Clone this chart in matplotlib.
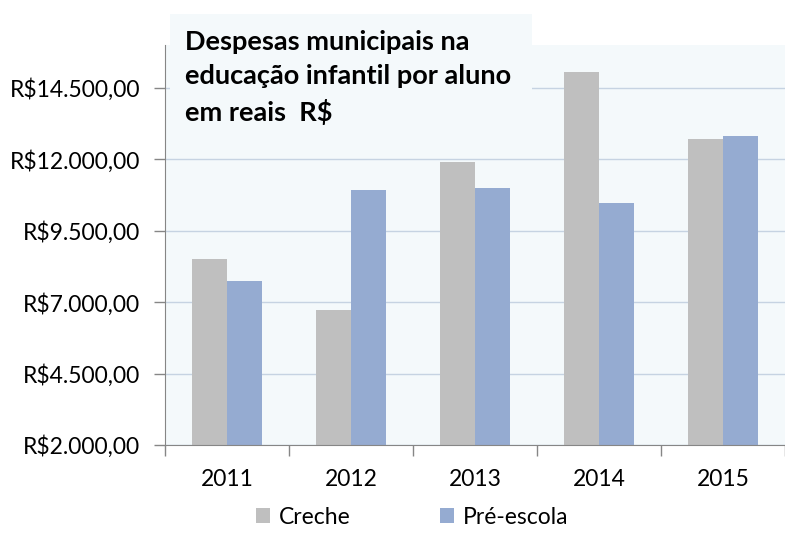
import matplotlib
matplotlib.use("Agg")
import matplotlib.pyplot as plt
from matplotlib.patches import Rectangle
import numpy as np

years = ["2011", "2012", "2013", "2014", "2015"]
creche = [8500, 6720, 11900, 15060, 12710]
pre_escola = [7730, 10920, 10990, 10470, 12810]
yticks = [2000, 4500, 7000, 9500, 12000, 14500]
ytick_labels = ["R$2.000,00", "R$4.500,00", "R$7.000,00", "R$9.500,00", "R$12.000,00", "R$14.500,00"]
title = "Despesas municipais na\neducação infantil por aluno\nem reais  R$"

plt.rcParams['font.family'] = ['Lato', 'DejaVu Sans']

W, H = 785, 547
fig = plt.figure(figsize=(W/100, H/100), dpi=100)
fig.patch.set_facecolor("white")
bg = "#f4f9fb"
ax = fig.add_axes([165/W, (H-445)/H, (W-165)/W, 400/H])
ax.set_facecolor(bg)

x = np.arange(len(years))
bw = 0.282
ax.bar(x - bw/2, creche, width=bw, color="#bfbfbf", label="Creche", zorder=3)
ax.bar(x + bw/2, pre_escola, width=bw, color="#95abd1", label="Pré-escola", zorder=3)

ax.set_ylim(2000, 16000)
ax.set_xlim(-0.5, len(years) - 0.5)
ax.set_yticks(yticks)
ax.set_yticklabels(ytick_labels, fontsize=16.5)
ax.set_xticks(x)
ax.set_xticklabels(years, fontsize=16.5)
ax.set_xticks(np.arange(len(years) + 1) - 0.5, minor=True)
ax.tick_params(axis='x', which='major', length=0, pad=17)
ax.tick_params(axis='x', which='minor', length=8, color="#868686", width=1)
ax.tick_params(axis='y', length=8, color="#868686", width=1, pad=10)
ax.grid(axis='y', color="#c6d3e2", linewidth=1, zorder=0)
for s in ["top", "right"]:
    ax.spines[s].set_visible(False)
for s in ["left", "bottom"]:
    ax.spines[s].set_color("#868686")
    ax.spines[s].set_zorder(4)

# title box
fig.patches.append(Rectangle((170/W, (H-130)/H), (532-170)/W, (130-14)/H,
                             transform=fig.transFigure, facecolor=bg, edgecolor="none", zorder=5))
fig.text(185/W, (H-30)/H, title, fontsize=19.5, fontweight='bold', va='top', ha='left',
         linespacing=1.5, zorder=6)

leg = fig.legend(loc='center', bbox_to_anchor=(412/W, (H-517)/H), ncol=2, frameon=False,
                 fontsize=16.5, handlelength=0.6, handleheight=0.6, handletextpad=0.4,
                 columnspacing=3.9)

fig.savefig("out.png", dpi=100)
